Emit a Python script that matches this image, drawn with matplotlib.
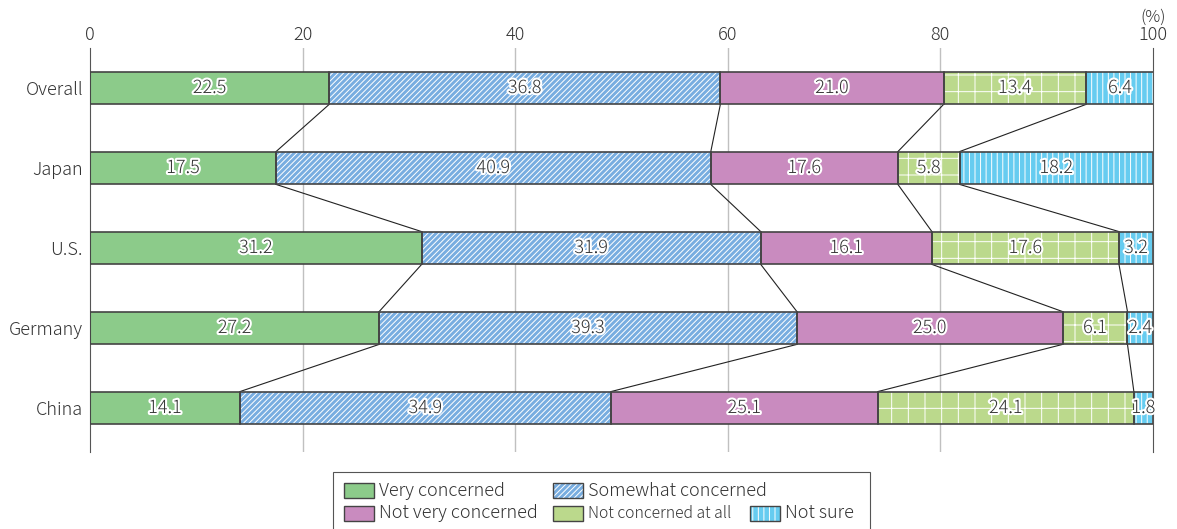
import matplotlib.pyplot as plt
import matplotlib.patheffects as pe
from matplotlib.patches import Rectangle
import numpy as np

plt.rcParams['font.family'] = ['Noto Sans CJK JP', 'DejaVu Sans']
plt.rcParams['font.weight'] = 'light'
plt.rcParams['hatch.linewidth'] = 0.7

countries = ["Overall", "Japan", "U.S.", "Germany", "China"]
series_names = ["Very concerned", "Somewhat concerned", "Not very concerned",
                "Not concerned at all", "Not sure"]
very_concerned = [22.5, 17.5, 31.2, 27.2, 14.1]
somewhat_concerned = [36.8, 40.9, 31.9, 39.3, 34.9]
not_very_concerned = [21.0, 17.6, 16.1, 25.0, 25.1]
not_concerned_at_all = [13.4, 5.8, 17.6, 6.1, 24.1]
not_sure = [6.4, 18.2, 3.2, 2.4, 1.8]
x_ticks = [0, 20, 40, 60, 80, 100]

series = [very_concerned, somewhat_concerned, not_very_concerned,
          not_concerned_at_all, not_sure]
colors = ["#8ccb8a", "#78ade0", "#c98bbf", "#bbd98c", "#66ccf0"]
hatches = [None, "//////", None, "+", "|||"]
legend_hatches = [None, "//////", None, None, "|||"]

W, H = 1177, 529
fig = plt.figure(figsize=(W / 100, H / 100), dpi=100)
ax = fig.add_axes([90 / W, 77 / H, 1063 / W, 404 / H])

y = np.arange(len(countries))
bar_h = 0.41
text_fx = [pe.withStroke(linewidth=3, foreground="white")]
edge = "#444444"
txt_col = "#333333"

left = np.zeros(len(countries))
bounds = []
for vals, col, hat in zip(series, colors, hatches):
    vals = np.array(vals)
    # coloured fill carrying a white hatch
    ax.barh(y, vals, left=left, height=bar_h, color=col, hatch=hat,
            edgecolor="white", linewidth=0, zorder=2)
    # dark outline on top, kept separate so the hatch stays white
    ax.barh(y, vals, left=left, height=bar_h, fill=False,
            edgecolor=edge, linewidth=1.2, zorder=3)
    for yi, l, v in zip(y, left, vals):
        ax.text(l + v / 2, yi, f"{v:.1f}", ha="center", va="center",
                fontsize=13, color=txt_col, path_effects=text_fx, zorder=5)
    left = left + vals
    bounds.append(left.copy())

# connector lines joining the cumulative boundaries of neighbouring bars
for b in bounds[:-1]:
    for i in range(len(countries) - 1):
        ax.plot([b[i], b[i + 1]], [y[i] + bar_h / 2, y[i + 1] - bar_h / 2],
                color="#222222", linewidth=0.8, zorder=1)

ax.set_xlim(0, 100)
ax.set_ylim(4.55, -0.5)
ax.set_yticks(y)
ax.set_yticklabels(countries, fontsize=13, color=txt_col)
ax.set_xticks(x_ticks)
ax.xaxis.tick_top()
ax.tick_params(axis="x", length=0, pad=3, labelsize=13, labelcolor=txt_col)
ax.tick_params(axis="y", length=0, pad=5)
for v in x_ticks[1:-1]:
    ax.axvline(v, color="#c0c0c0", linewidth=1, zorder=0)
for s in ["top", "bottom"]:
    ax.spines[s].set_visible(False)
ax.spines["left"].set_color("#555555")
ax.spines["right"].set_color("#555555")
fig.text(1153 / W, 1 - 17 / H, "(%)", ha="center", va="center",
         fontsize=12, color=txt_col)


# legend box laid out by hand in figure pixels
def fx(px):
    return px / W


def fy(py):
    return 1 - py / H


fig.add_artist(Rectangle((fx(333), fy(531)), fx(870) - fx(333), fy(472) - fy(531),
                         transform=fig.transFigure, fill=False,
                         edgecolor="#555555", linewidth=0.8))
legend_slots = [  # (series index, handle left px, row centre px)
    (0, 344, 490.5), (1, 553, 490.5),
    (2, 344, 513.5), (3, 553, 513.5), (4, 750, 513.5),
]
for idx, hx, hy in legend_slots:
    hw, hh = 30, 15
    r0 = Rectangle((fx(hx), fy(hy + hh / 2)), fx(hw), hh / H,
                   transform=fig.transFigure, facecolor=colors[idx],
                   hatch=legend_hatches[idx], edgecolor="white", linewidth=0)
    r1 = Rectangle((fx(hx), fy(hy + hh / 2)), fx(hw), hh / H,
                   transform=fig.transFigure, fill=False,
                   edgecolor=edge, linewidth=1)
    fig.add_artist(r0)
    fig.add_artist(r1)
    size = 11.3 if idx == 3 else 13
    fig.text(fx(hx + hw + 5), fy(hy), series_names[idx], ha="left",
             va="center", fontsize=size, color=txt_col)

fig.savefig("out.png", dpi=100)
